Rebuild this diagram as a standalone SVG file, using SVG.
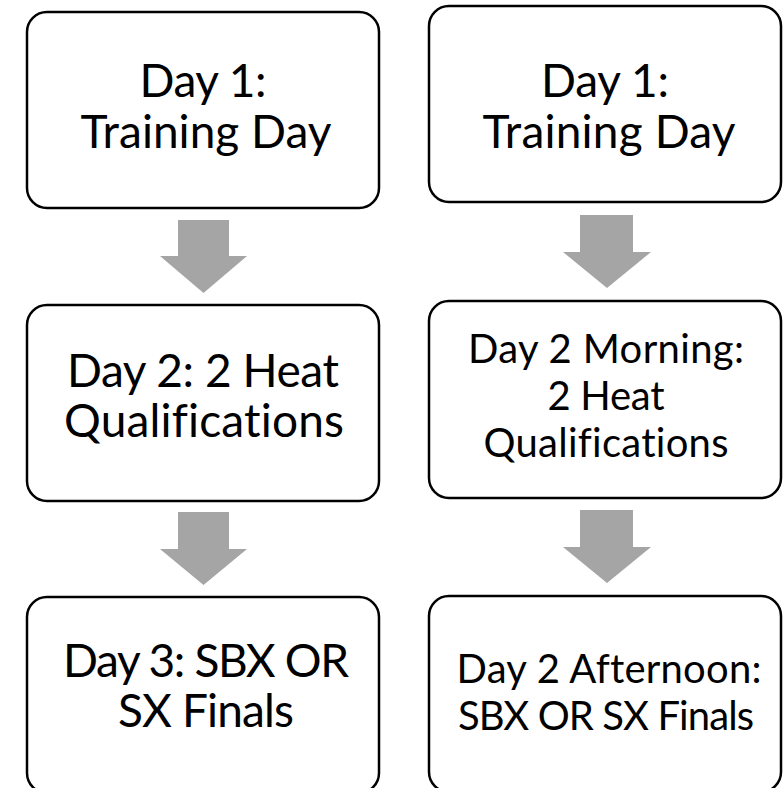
<svg xmlns="http://www.w3.org/2000/svg" width="783" height="788" viewBox="0 0 783 788">
<style>
.box{fill:#fff;stroke:#000;stroke-width:2.5}
.arr{fill:#a5a5a5}
.t{font-family:Lato,"Liberation Sans",sans-serif;fill:#000;text-anchor:middle;font-variant-ligatures:none;font-feature-settings:"liga" 0,"clig" 0}
.big{font-size:46px}
.sm{font-size:40px}
</style>
<rect width="783" height="788" fill="#fff"/>
<g id="connectors">
<polygon class="arr" points="178,220 229,220 229,256 247,256 203.5,293 160,256 178,256"/>
<polygon class="arr" points="178,512 229,512 229,549 247,549 203.5,585 160,549 178,549"/>
<polygon class="arr" points="580,215 633,215 633,252 651,252 607,288 563,252 580,252"/>
<polygon class="arr" points="580,510 633,510 633,547 651,547 607,583 563,547 580,547"/>
</g>
<g id="left1">
<rect class="box" x="27" y="12" width="352" height="196" rx="20"/>
<text class="t big" x="203" y="97" textLength="127" lengthAdjust="spacing">Day 1:</text>
<text class="t big" x="206" y="148" textLength="251" lengthAdjust="spacing">Training Day</text>
</g>
<g id="left2">
<rect class="box" x="27" y="305" width="352" height="196" rx="20"/>
<text class="t big" x="203" y="387" textLength="272" lengthAdjust="spacing">Day 2: 2 Heat</text>
<text class="t big" x="204" y="437" textLength="280" lengthAdjust="spacing">Qualifications</text>
</g>
<g id="left3">
<rect class="box" x="27" y="597" width="352" height="196" rx="20"/>
<text class="t big" x="206" y="677" textLength="286" lengthAdjust="spacing">Day 3: SBX OR</text>
<text class="t big" x="206" y="727" textLength="176" lengthAdjust="spacing">SX Finals</text>
</g>
<g id="right1">
<rect class="box" x="429" y="6" width="352" height="196" rx="20"/>
<text class="t big" x="605" y="97" textLength="128" lengthAdjust="spacing">Day 1:</text>
<text class="t big" x="609" y="148" textLength="253" lengthAdjust="spacing">Training Day</text>
</g>
<g id="right2">
<rect class="box" x="429" y="301" width="352" height="197" rx="20"/>
<text class="t sm" x="606" y="363" textLength="276" lengthAdjust="spacing">Day 2 Morning:</text>
<text class="t sm" x="606" y="410" textLength="117" lengthAdjust="spacing">2 Heat</text>
<text class="t sm" x="606" y="457" textLength="245" lengthAdjust="spacing">Qualifications</text>
</g>
<g id="right3">
<rect class="box" x="429" y="596" width="352" height="196" rx="20"/>
<text class="t sm" x="609" y="683" textLength="305" lengthAdjust="spacing">Day 2 Afternoon:</text>
<text class="t sm" x="606" y="730" textLength="296" lengthAdjust="spacing">SBX OR SX Finals</text>
</g>
</svg>
